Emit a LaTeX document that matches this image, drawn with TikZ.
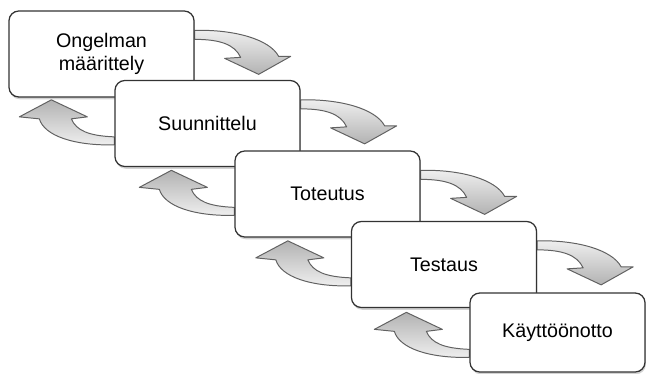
\documentclass[tikz,border=0pt]{standalone}
\usepackage{fontspec}
\setmainfont{Liberation Sans}
\usetikzlibrary{calc, shadows, backgrounds}
\definecolor{edgegray}{rgb}{0.2,0.2,0.2}
\definecolor{arrowedge}{rgb}{0.38,0.38,0.38}

\begin{document}
\begin{tikzpicture}[
    x=0.025cm, y=-0.025cm,
    phase/.style={
        rectangle, rounded corners=7pt,
        draw=edgegray, line width=0.9pt, fill=white,
        minimum width=4.625cm, minimum height=2.15cm,
        align=center, font=\fontsize{14}{16}\selectfont,
        drop shadow={shadow xshift=0.6pt, shadow yshift=-1.6pt,
                     opacity=0.35, fill=gray}
    },
    %% forward arrow: light at the top, darker towards the head
    fwd/.style={
        draw=arrowedge, line width=0.7pt, line join=round,
        top color=gray!12, bottom color=gray!60
    },
    back/.style={
        draw=arrowedge, line width=0.7pt, line join=round,
        top color=gray!60, bottom color=gray!12
    }
]
\useasboundingbox (0,0) rectangle (646,374);

%% -- Phases ------------------------------------------------------------------
\node[phase] (define)  at (101.5, 54)   {Ongelman\\määrittely};
\node[phase] (design)  at (207.5, 123.5) {Suunnittelu};
\node[phase] (build)   at (327.5, 194)  {Toteutus};
\node[phase] (testing) at (444, 264.5)  {Testaus};
\node[phase, minimum width=4.375cm, minimum height=1.975cm]
             (deploy)  at (557.5, 332.5) {Käyttöönotto};

%% -- Curved arrows between the phases ----------------------------------------
\foreach \a/\b in {define/design, design/build, build/testing, testing/deploy} {
  \begin{scope}[on background layer, shift={($(\a.north east)+(0,24)$)}]
    \path[fwd] (0,-4) .. controls (40,-5) and (75,5) .. (84,22)
        -- (96,22) -- (64,40) -- (30,24) -- (46,23)
        .. controls (40,10) and (25,5) .. (0,5) -- cycle;
  \end{scope}
  \begin{scope}[on background layer, shift={($(\b.north west)+(0,61)$)}]
    \path[back] (0,4) .. controls (-40,5) and (-70,-5) .. (-75,-22)
        -- (-95,-24) -- (-63,-41) -- (-27,-24) -- (-43,-22)
        .. controls (-38,-10) and (-25,-5) .. (0,-4) -- cycle;
  \end{scope}
}

\end{tikzpicture}
\end{document}
